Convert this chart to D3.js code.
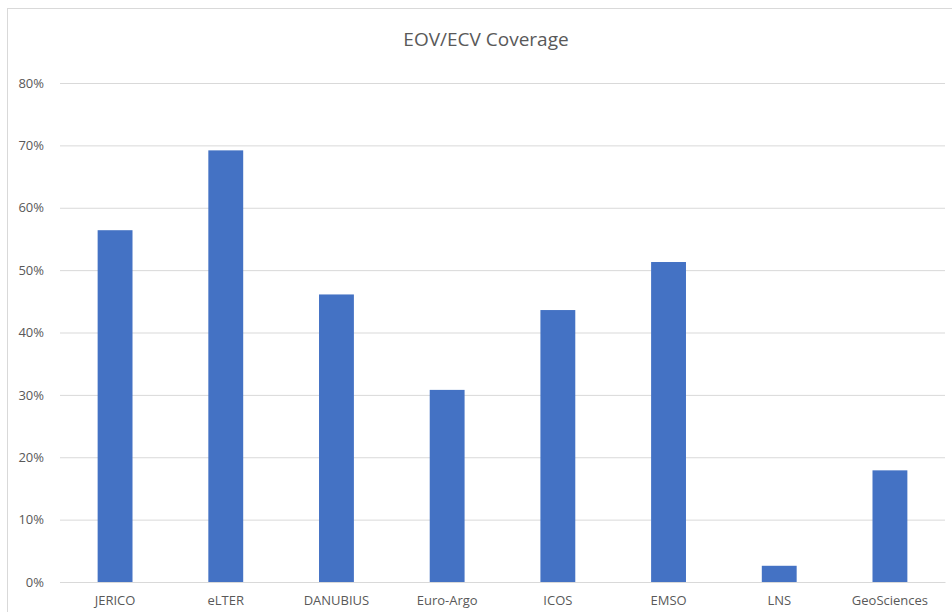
<!DOCTYPE html>
<html lang="en">
<head>
    <meta charset="UTF-8">
    <script src="https://d3js.org/d3.v7.min.js"></script>
    <title>EOV/ECV Coverage</title>
    <style>
        body { margin: 0; background: white; }
        svg { display: block; font-family: "Open Sans", "Noto Sans", sans-serif; }
    </style>
</head>
<body>
    <div id="chart"></div>
    <script>
        // values (fractions)
        const categories = ["JERICO", "eLTER", "DANUBIUS", "Euro-Argo", "ICOS", "EMSO", "LNS", "GeoSciences"];
        const coverage = [0.564, 0.692, 0.461, 0.308, 0.436, 0.513, 0.026, 0.179];
        const yTicks = [0, 0.1, 0.2, 0.3, 0.4, 0.5, 0.6, 0.7, 0.8];

        const W = 952, H = 612;
        const margin = { top: 83, right: 7, bottom: 30, left: 60 };
        const width = W - margin.left - margin.right;
        const height = H - margin.top - margin.bottom;

        const svg = d3.select("#chart").append("svg")
            .attr("width", W)
            .attr("height", H);

        // chart frame
        svg.append("rect")
            .attr("x", 7.5).attr("y", 8.5)
            .attr("width", W + 10).attr("height", H + 10)
            .attr("fill", "white")
            .attr("stroke", "#d9d9d9");

        svg.append("text")
            .attr("x", 486)
            .attr("y", 46)
            .attr("text-anchor", "middle")
            .attr("fill", "#595959")
            .style("font-size", "19px")
            .text("EOV/ECV Coverage");

        const x = d3.scaleBand().domain(categories).range([0, width]).paddingInner(0.685).paddingOuter(0.34);
        const y = d3.scaleLinear().domain([0, 0.8]).range([height, 0]);

        const g = svg.append("g")
            .attr("transform", "translate(" + margin.left + "," + margin.top + ")");

        // gridlines + y labels
        const yAxis = g.append("g")
            .attr("font-family", null)
            .call(d3.axisLeft(y).tickValues(yTicks).tickFormat(d3.format(".0%")).tickSize(-width).tickPadding(16));
        yAxis.attr("font-family", "'Open Sans', sans-serif");
        yAxis.select(".domain").remove();
        yAxis.selectAll("line").attr("stroke", "#d9d9d9");
        yAxis.selectAll("text").attr("fill", "#595959").style("font-size", "13px");

        g.selectAll("rect.bar")
            .data(categories)
            .join("rect")
            .attr("class", "bar")
            .attr("x", d => x(d))
            .attr("width", x.bandwidth())
            .attr("y", (d, i) => y(coverage[i]))
            .attr("height", (d, i) => height - y(coverage[i]))
            .attr("fill", "#4472c4");

        const xAxis = g.append("g")
            .attr("transform", "translate(0," + height + ")")
            .call(d3.axisBottom(x).tickSize(0).tickPadding(14));
        xAxis.attr("font-family", "'Open Sans', sans-serif");
        xAxis.select(".domain").attr("stroke", "#d9d9d9");
        xAxis.selectAll("text").attr("fill", "#595959").style("font-size", "13px");
    </script>
</body>
</html>
